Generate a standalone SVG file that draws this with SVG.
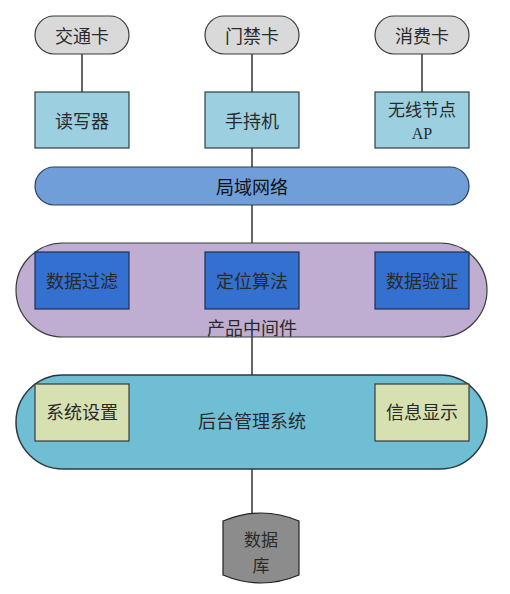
<svg xmlns="http://www.w3.org/2000/svg" width="510" height="594" viewBox="0 0 510 594">
<style>
text{font-family:"Noto Sans CJK SC","Liberation Serif",sans-serif;font-size:18px;fill:#2a2a2a;text-anchor:middle;dominant-baseline:central}
.card{fill:#d9d9d9;stroke:#3a3a3a;stroke-width:1.2}
.dev{fill:#9ccfdf;stroke:#2e3f44;stroke-width:1.2}
.lan{fill:#6f9ed9;stroke:#2e3f55;stroke-width:1.2}
.mid{fill:#c0aed2;stroke:#3a3a3a;stroke-width:1.2}
.alg{fill:#3370cf;stroke:#1f2f4f;stroke-width:1.2}
.bk{fill:#6fbed3;stroke:#2a3a40;stroke-width:1.5}
.mod{fill:#d7e0b0;stroke:#3a3a3a;stroke-width:1.2}
.db{fill:#8c8c8c;stroke:#222;stroke-width:1.2}
.ln{stroke:#666;stroke-width:2;fill:none}
.sm{font-size:17px}
</style>
<g id="connectors">
<line class="ln" x1="82" y1="54" x2="82" y2="92"/>
<line class="ln" x1="252" y1="54" x2="252" y2="92"/>
<line class="ln" x1="422" y1="54" x2="422" y2="92"/>
<line class="ln" x1="252" y1="148" x2="252" y2="167"/>
<line class="ln" x1="252" y1="205" x2="252" y2="243"/>
<line class="ln" x1="252" y1="337" x2="252" y2="375"/>
<line class="ln" x1="252" y1="469" x2="252" y2="514"/>
</g>
<g id="card1"><rect class="card" x="35" y="16" width="94" height="38" rx="19"/><text x="82" y="35">交通卡</text></g>
<g id="card2"><rect class="card" x="205" y="16" width="94" height="38" rx="19"/><text x="252" y="35">门禁卡</text></g>
<g id="card3"><rect class="card" x="375" y="16" width="94" height="38" rx="19"/><text x="422" y="35">消费卡</text></g>
<g id="reader"><rect class="dev" x="35" y="92" width="94" height="56"/><text x="82" y="120">读写器</text></g>
<g id="handheld"><rect class="dev" x="205" y="92" width="94" height="56"/><text x="252" y="120">手持机</text></g>
<g id="ap"><rect class="dev" x="375" y="92" width="94" height="56"/><text class="sm" x="422" y="108">无线节点</text><text x="422" y="133" style="font-family:'Liberation Serif',serif;font-size:16px">AP</text></g>
<g id="lan"><rect class="lan" x="35" y="167" width="434" height="38" rx="19"/><text x="252" y="186" style="fill:#111">局域网络</text></g>
<g id="middleware"><rect class="mid" x="16" y="243" width="471" height="94" rx="47"/><text x="252" y="327">产品中间件</text></g>
<g id="filter"><rect class="alg" x="35" y="252" width="94" height="57"/><text x="82" y="280">数据过滤</text></g>
<g id="locate"><rect class="alg" x="205" y="252" width="94" height="57"/><text x="252" y="280">定位算法</text></g>
<g id="verify"><rect class="alg" x="375" y="252" width="94" height="57"/><text x="422" y="280">数据验证</text></g>
<g id="backend"><rect class="bk" x="16" y="375" width="471" height="94" rx="47"/><text x="252" y="420">后台管理系统</text></g>
<g id="settings"><rect class="mod" x="35" y="384" width="94" height="57"/><text x="82" y="411">系统设置</text></g>
<g id="display"><rect class="mod" x="375" y="384" width="94" height="57"/><text x="422" y="411">信息显示</text></g>
<g id="database"><path class="db" d="M223,521 Q261,505 299,521 L299,575 Q261,591 223,575 Z"/><text class="sm" x="261" y="538">数据</text><text class="sm" x="261" y="564">库</text></g>
</svg>
